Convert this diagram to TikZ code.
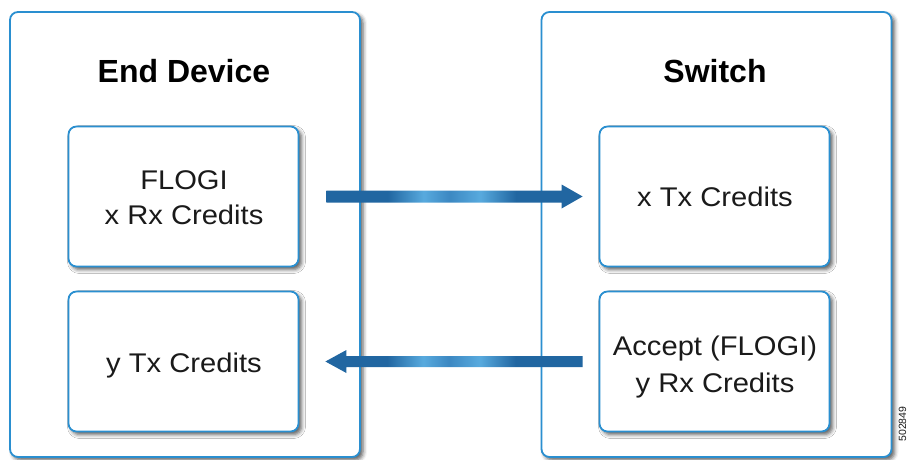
\documentclass[tikz,border=0pt]{standalone}
\usepackage{fontspec}
\setmainfont{Liberation Sans}
\newfontfamily\boxfont[FakeStretch=1.08]{Liberation Sans}
\usetikzlibrary{shadows.blur,calc}
\definecolor{boxblue}{HTML}{2A8FD0}
\definecolor{adark}{HTML}{2166A1}
\definecolor{amid}{HTML}{3C88C2}
\definecolor{alight}{HTML}{58AADE}
\definecolor{txt}{HTML}{1A1A1A}
\pgfdeclarehorizontalshading{arrowgrad}{100bp}{color(0bp)=(adark); color(37bp)=(adark); color(44bp)=(alight); color(49bp)=(amid); color(55bp)=(alight); color(62bp)=(adark); color(100bp)=(adark)}
\begin{document}
\begin{tikzpicture}[x=1pt,y=-1pt,
  outerbox/.style={draw=boxblue, line width=1.8pt, rounded corners=8pt, fill=white,
    blur shadow={shadow xshift=3pt, shadow yshift=-3pt, shadow blur radius=4pt, shadow opacity=65}},
  innerbox/.style={draw=boxblue, line width=1.8pt, rounded corners=8pt, fill=white,
    minimum width=230pt, minimum height=140pt, inner sep=0pt,
    blur shadow={shadow xshift=3pt, shadow yshift=-3pt, shadow blur radius=4pt, shadow opacity=65}},
  boxtext/.style={anchor=base, inner sep=0pt, font=\boxfont\fontsize{27}{30}\selectfont, text=txt},
  title/.style={anchor=base, font=\fontsize{32}{36}\selectfont\bfseries, text=black},
  flow/.style={shading=arrowgrad}]
\useasboundingbox (0,0) rectangle (907,459);
% outer boxes
\node[outerbox, minimum width=350pt, minimum height=445pt] (dev) at (185,234.5) {};
\node[outerbox, minimum width=350pt, minimum height=445pt] (sw) at (716.5,234.5) {};
\node[title] (devt) at (184,82) {End Device};
\node[title] (swt) at (715,82) {Switch};
% inner boxes
\node[innerbox] (flogi) at (183.5,196.5) {};
\node[innerbox] (ytx) at (183.5,361.5) {};
\node[innerbox] (xtx) at (714.5,196.5) {};
\node[innerbox] (acc) at (714.5,361.5) {};
\node[boxtext] (t1) at (184,189.5) {FLOGI};
\node[boxtext] (t2) at (184,224) {x Rx Credits};
\node[boxtext] (t3) at (184,372) {y Tx Credits};
\node[boxtext] (t4) at (715,206) {x Tx Credits};
\node[boxtext] (t5) at (715,355.5) {Accept (FLOGI)};
\node[boxtext] (t6) at (715,392) {y Rx Credits};
% arrows
\coordinate (a1s) at ($(flogi.east)+(27,0)$);
\coordinate (a1e) at ($(xtx.west)+(-16,0)$);
\coordinate (a2s) at ($(acc.west)+(-16,0)$);
\coordinate (a2e) at ($(ytx.east)+(26,0)$);
\path[flow] ($(a1s)+(0,-6)$) -- ($(a1e)+(-21,-6)$) -- ($(a1e)+(-21,-12)$) -- (a1e)
  -- ($(a1e)+(-21,12)$) -- ($(a1e)+(-21,6)$) -- ($(a1s)+(0,6)$) -- cycle;
\path[flow] ($(a2s)+(0,-5.5)$) -- ($(a2e)+(21,-5.5)$) -- ($(a2e)+(21,-11.5)$) -- (a2e)
  -- ($(a2e)+(21,11.5)$) -- ($(a2e)+(21,5.5)$) -- ($(a2s)+(0,5.5)$) -- cycle;
% figure number
\node[rotate=90, font=\fontsize{10.5}{12}\selectfont, text=txt] (fig) at (902.5,424) {502849};
\end{tikzpicture}
\end{document}
